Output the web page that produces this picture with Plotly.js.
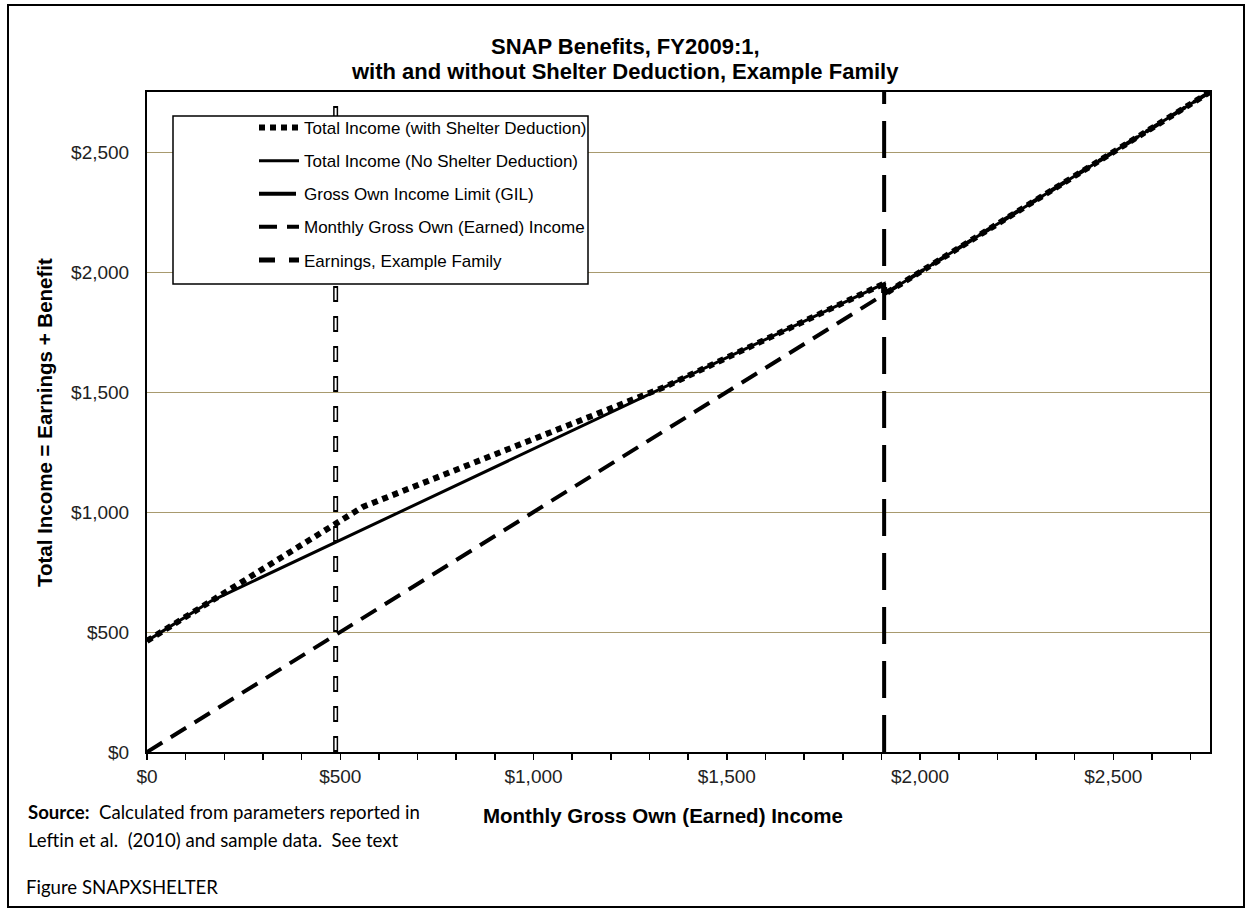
<!DOCTYPE html>
<html>
<head>
<meta charset="utf-8">
<script src="https://cdn.plot.ly/plotly-3.0.1.min.js"></script>
<style>html,body{margin:0;padding:0;background:#fff;}#chart{width:1250px;height:909px;}</style>
</head>
<body>
<div id="chart"></div>
<script>
// Monthly gross own (earned) income, $ per month
const shelterX = [0, 558, 1342, 1907, 1907, 2750];
const shelterY = [463, 1021, 1523, 1952, 1907, 2750];   // Total income with shelter deduction
const noShelterX = [0, 167, 1907, 1907, 2750];
const noShelterY = [463, 630, 1952, 1907, 2750];        // Total income without shelter deduction
const gilX = [1907, 1907];                               // Gross own income limit
const gilY = [0, 2750];
const earnedX = [0, 2750];                               // Monthly gross own (earned) income
const earnedY = [0, 2750];
const exampleX = [488, 488];                             // Earnings, example family
const exampleY = [0, 2750];
const xTickVals = [0, 500, 1000, 1500, 2000, 2500];
const xTickText = ['$0', '$500', '$1,000', '$1,500', '$2,000', '$2,500'];
const yTickVals = [0, 500, 1000, 1500, 2000, 2500];
const yTickText = ['$0', '$500', '$1,000', '$1,500', '$2,000', '$2,500'];
const seriesNames = [
  'Total Income (with Shelter Deduction)',
  'Total Income (No Shelter Deduction)',
  'Gross Own Income Limit (GIL)',
  'Monthly Gross Own (Earned) Income',
  'Earnings, Example Family'
];
const titleLines = ['SNAP Benefits, FY2009:1,', 'with and without Shelter Deduction, Example Family'];

const FONT = '"Liberation Sans", Arial, sans-serif';
const NOTE_FONT = 'Lato, "Open Sans", sans-serif';
const L = 147, R = 1210, T = 92, B = 752;
const px = v => (v - L) / (R - L);
const py = v => (B - v) / (B - T);

const traces = [
  {x: shelterX, y: shelterY, name: seriesNames[0], legendgroup: 'g1', mode: 'lines',
   line: {color: '#000', width: 6, dash: '6px,5px'}},
  {x: noShelterX, y: noShelterY, name: seriesNames[1], legendgroup: 'g2', mode: 'lines',
   line: {color: '#000', width: 3}},
  {x: gilX, y: gilY, name: seriesNames[2], legendgroup: 'g3', mode: 'lines',
   line: {color: '#000', width: 4, dash: '37px,17px'}},
  {x: earnedX, y: earnedY, name: seriesNames[3], legendgroup: 'g4', mode: 'lines',
   line: {color: '#000', width: 4, dash: '18px,10px'}},
  {x: exampleX, y: exampleY, name: seriesNames[4], legendgroup: 'g5', mode: 'lines',
   line: {color: '#000', width: 5, dash: '16px,14px'}},
  {x: exampleX, y: exampleY, name: seriesNames[4], legendgroup: 'g5', mode: 'lines', showlegend: false,
   line: {color: '#fff', width: 2, dash: '0px,2px,12px,16px'}}
];

const layout = {
  width: 1250, height: 909,
  margin: {l: L, r: 1250 - R, t: T, b: 909 - B},
  paper_bgcolor: '#fff', plot_bgcolor: '#fff',
  font: {family: FONT, color: '#000'},
  showlegend: true,
  hovermode: false,
  xaxis: {
    range: [0, 2750], tickvals: xTickVals, ticktext: xTickText,
    showgrid: false, zeroline: false,
    showline: true, linecolor: '#000', linewidth: 2, mirror: true,
    ticks: 'outside', ticklen: 6, tickwidth: 1.5, tickcolor: '#000',
    minor: {dtick: 100, tick0: 0, ticks: 'outside', ticklen: 6, tickwidth: 1.5, tickcolor: '#000', showgrid: false},
    tickfont: {family: FONT, size: 19, color: '#222'}
  },
  yaxis: {
    range: [0, 2750], tickvals: yTickVals, ticktext: yTickText,
    showgrid: true, gridcolor: '#A89A6E', gridwidth: 1, zeroline: false,
    showline: true, linecolor: '#000', linewidth: 2, mirror: true,
    ticks: '', ticklabelstandoff: 12,
    tickfont: {family: FONT, size: 19, color: '#222'}
  },
  legend: {
    x: px(254), xanchor: 'left', y: py(110), yanchor: 'top',
    bgcolor: 'rgba(0,0,0,0)', borderwidth: 0,
    font: {family: FONT, size: 17, color: '#000'},
    tracegroupgap: 8, itemwidth: 40
  },
  shapes: [
    {type: 'rect', xref: 'paper', yref: 'paper', layer: 'above',
     x0: px(173), x1: px(588), y0: py(284), y1: py(116),
     fillcolor: '#fff', line: {color: '#000', width: 1.5}},
    {type: 'rect', xref: 'paper', yref: 'paper', layer: 'above',
     x0: px(8), x1: px(1244), y0: py(907), y1: py(5),
     fillcolor: 'rgba(0,0,0,0)', line: {color: '#000', width: 2}}
  ],
  annotations: [
    {text: '<b>' + titleLines[0] + '</b>', xref: 'paper', yref: 'paper',
     x: px(625), y: py(46), xanchor: 'center', yanchor: 'middle', showarrow: false,
     font: {family: FONT, size: 22, color: '#000'}},
    {text: '<b>' + titleLines[1] + '</b>', xref: 'paper', yref: 'paper',
     x: px(625), y: py(71), xanchor: 'center', yanchor: 'middle', showarrow: false,
     font: {family: FONT, size: 22, color: '#000'}},
    {text: '<b>Monthly Gross Own (Earned) Income</b>', xref: 'paper', yref: 'paper',
     x: px(663), y: py(815), xanchor: 'center', yanchor: 'middle', showarrow: false,
     font: {family: FONT, size: 20.5, color: '#000'}},
    {text: '<b>Total Income = Earnings + Benefit</b>', xref: 'paper', yref: 'paper',
     x: px(45), y: py(423), xanchor: 'center', yanchor: 'middle', showarrow: false, textangle: -90,
     font: {family: FONT, size: 20.5, color: '#000'}},
    {text: '<b>Source:</b>  Calculated from parameters reported in', xref: 'paper', yref: 'paper',
     x: px(26), y: py(812), xanchor: 'left', yanchor: 'middle', showarrow: false,
     font: {family: NOTE_FONT, size: 18.6, color: '#000'}},
    {text: 'Leftin et al.  (2010) and sample data.  See text', xref: 'paper', yref: 'paper',
     x: px(26), y: py(840), xanchor: 'left', yanchor: 'middle', showarrow: false,
     font: {family: NOTE_FONT, size: 18.6, color: '#000'}},
    {text: 'Figure SNAPXSHELTER', xref: 'paper', yref: 'paper',
     x: px(24), y: py(887), xanchor: 'left', yanchor: 'middle', showarrow: false,
     font: {family: NOTE_FONT, size: 18.6, color: '#000'}}
  ]
};

Plotly.newPlot('chart', traces, layout, {staticPlot: true, displayModeBar: false});
</script>
</body>
</html>
